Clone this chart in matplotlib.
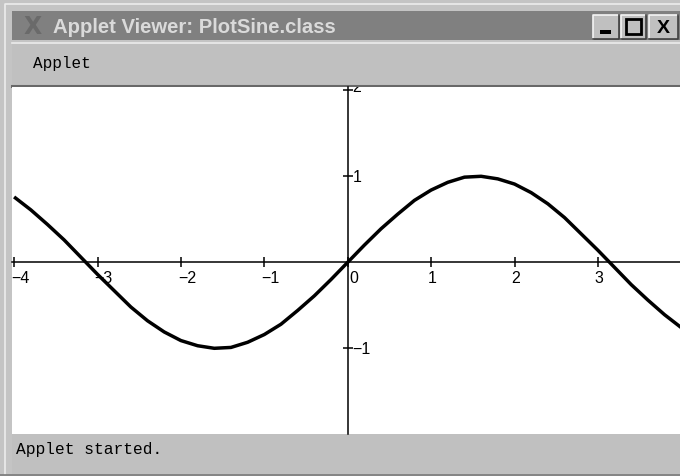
import matplotlib
matplotlib.use("Agg")
import matplotlib.pyplot as plt
from matplotlib.patches import Rectangle

# ---- data ----
x_vals = [-4.0, -3.8, -3.6, -3.4, -3.2, -3.0, -2.8, -2.6, -2.4, -2.2, -2.0,
          -1.8, -1.6, -1.4, -1.2, -1.0, -0.8, -0.6, -0.4, -0.2, 0.0,
          0.2, 0.4, 0.6, 0.8, 1.0, 1.2, 1.4, 1.6, 1.8, 2.0,
          2.2, 2.4, 2.6, 2.8, 3.0, 3.2, 3.4, 3.6, 3.8, 4.0]
y_vals = [0.76, 0.61, 0.44, 0.26, 0.06, -0.14, -0.33, -0.52, -0.68, -0.81, -0.91,
          -0.97, -1.00, -0.99, -0.93, -0.84, -0.72, -0.56, -0.39, -0.20, 0.00,
          0.20, 0.39, 0.56, 0.72, 0.84, 0.93, 0.99, 1.00, 0.97, 0.91,
          0.81, 0.68, 0.52, 0.33, 0.14, -0.06, -0.26, -0.44, -0.61, -0.76]
x_ticks = [-4, -3, -2, -1, 0, 1, 2, 3]
x_tick_labels = ["\u22124", "\u22123", "\u22122", "\u22121", "0", "1", "2", "3"]
y_ticks = [2, 1, -1]
y_tick_labels = ["2", "1", "\u22121"]
window_title = "Applet Viewer: PlotSine.class"
menu_label = "Applet"
status_text = "Applet started."

W, H = 680, 477
fig = plt.figure(figsize=(W / 100, H / 100), dpi=100)
fig.patch.set_facecolor("#c4c4c4")

# ---- window chrome ----
bg = fig.add_axes([0, 0, 1, 1])
bg.set_xlim(0, W)
bg.set_ylim(H, 0)
bg.axis("off")

def rect(x, y, w, h, fc, ec="none", lw=0, z=1):
    bg.add_patch(Rectangle((x, y), w, h, facecolor=fc, edgecolor=ec, linewidth=lw, zorder=z))

rect(0, 0, W, H, "#c4c4c4")
# light inner frame line
bg.plot([5, 5, W], [H - 2, 5, 5], color="#ececec", lw=1.2, zorder=2)
bg.plot([0, W], [H - 1.5, H - 1.5], color="#7a7a7a", lw=1.2, zorder=2)
# title bar
rect(12, 12, W - 12, 29, "#808080", z=2)
bg.text(33, 27, "X", color="#6a6a6a", fontsize=17, fontweight="bold",
        ha="center", va="center", family="DejaVu Sans", zorder=3)
bg.text(53, 27.5, window_title, color="#dadada", fontsize=14.6, fontweight="bold",
        ha="left", va="center", family="Liberation Sans", zorder=3)
# title bar buttons
for bx, bw in [(593, 26), (621, 25), (649, 29)]:
    rect(bx, 16, bw, 24, "#c0c0c0", z=3)
    bg.plot([bx, bx, bx + bw], [40, 16, 16], color="#f4f4f4", lw=1.2, zorder=4)
    bg.plot([bx, bx + bw, bx + bw], [40, 40, 16], color="#404040", lw=1.2, zorder=4)
bg.add_patch(Rectangle((600, 31), 11, 3.5, facecolor="#000000", zorder=5))
bg.add_patch(Rectangle((626, 20), 15, 15, facecolor="none", edgecolor="#000000",
                       linewidth=2.0, zorder=5))
bg.text(663.5, 28.5, "X", color="#000000", fontsize=14, fontweight="bold",
        ha="center", va="center", family="Liberation Sans", zorder=5)
# menu bar
rect(12, 43, W - 12, 44, "#c0c0c0", z=2)
bg.plot([12, W], [43.5, 43.5], color="#ececec", lw=1.2, zorder=3)
bg.plot([12, W], [86.5, 86.5], color="#686868", lw=2.2, zorder=3)
bg.text(33, 68, menu_label, color="#000000", fontsize=11.5, family="Liberation Mono",
        ha="left", va="baseline", zorder=3)
# status bar
rect(12, 435, W - 12, 40, "#c0c0c0", z=2)
bg.text(16, 454, status_text, color="#000000", fontsize=11.7, family="Liberation Mono",
        ha="left", va="baseline", zorder=3)

# ---- plot area ----
left_px, right_px, top_px, bot_px = 12, 680, 88, 435
ax = fig.add_axes([left_px / W, 1 - bot_px / H, (right_px - left_px) / W,
                   (bot_px - top_px) / H])
ax.set_facecolor("white")
x_per_px = 1 / 83.4
y_per_px = 1 / 86.0
ax.set_xlim((left_px - 347.7) * x_per_px, (right_px - 347.7) * x_per_px)
ax.set_ylim((263.3 - bot_px) * y_per_px, (263.3 - top_px) * y_per_px)

for s in ["top", "right"]:
    ax.spines[s].set_visible(False)
ax.spines["left"].set_position(("data", 0))
ax.spines["bottom"].set_position(("data", 0))
for s in ["left", "bottom"]:
    ax.spines[s].set_linewidth(1.1)
    ax.spines[s].set_color("#000000")
ax.set_xticks(x_ticks)
ax.set_yticks(y_ticks)
ax.set_xticklabels([])
ax.set_yticklabels([])
ax.tick_params(direction="inout", length=7, width=1.1, color="#000000")

ax.plot(x_vals, y_vals, color="#000000", lw=2.5, solid_capstyle="butt", zorder=5)

tick_font = dict(fontsize=11.5, family="Liberation Sans", color="#000000")
for v, lab in zip(x_ticks, x_tick_labels):
    dx = 2 if v == 0 else -3
    ax.annotate(lab, xy=(v, 0), xytext=(dx, -8), textcoords="offset pixels",
                ha="left", va="top", annotation_clip=False, **tick_font)
for v, lab in zip(y_ticks, y_tick_labels):
    dy = 4 if v == 2 else 0
    t = ax.annotate(lab, xy=(0, v), xytext=(5, dy), textcoords="offset pixels",
                    ha="left", va="center", **tick_font)
    t.set_clip_box(ax.bbox)
    t.set_clip_on(True)

fig.savefig("out.png", dpi=100, facecolor=fig.get_facecolor())
